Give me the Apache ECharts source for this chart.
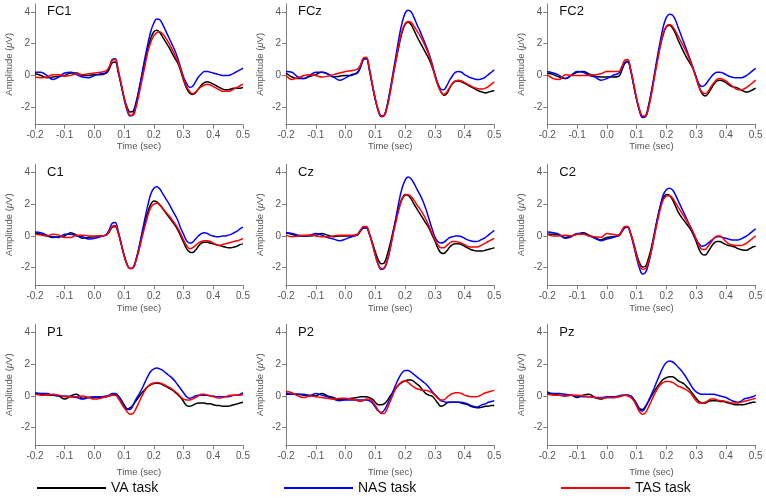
<!DOCTYPE html>
<html><head><meta charset="utf-8">
<script src="https://cdn.jsdelivr.net/npm/echarts@6/dist/echarts.min.js"></script>
<style>html,body{margin:0;padding:0;background:#fff}#c{width:766px;height:498px}</style>
</head><body><div id="c"></div>
<script>
// ---- data ----
const times = [-0.2,-0.18,-0.16,-0.14,-0.12,-0.1,-0.08,-0.06,-0.04,-0.02,0,0.02,0.04,
  0.05,0.06,0.07,0.08,0.09,0.1,0.11,0.12,0.13,0.14,
  0.15,0.16,0.17,0.18,0.19,0.2,0.21,0.22,0.23,0.24,
  0.25,0.26,0.27,0.28,0.29,0.3,0.31,0.32,0.33,0.34,
  0.35,0.36,0.37,0.38,0.39,0.4,0.41,0.42,0.43,0.44,
  0.45,0.46,0.47,0.48,0.49,0.5];
const channels = ['FC1','FCz','FC2','C1','Cz','C2','P1','P2','Pz'];
const taskNames = ['VA task','NAS task','TAS task'];
const taskColors = ['#000000','#0000ff','#ff0000'];
const xTicks = [-0.2,-0.1,0,0.1,0.2,0.3,0.4,0.5];
const yTicks = [-2,0,2,4];

const FC1_VA = [0.1,0.0,-0.15,-0.1,-0.05,0.0,0.15,0.15,0.0,0.0,0.05,0.05,0.15,
  0.4,0.8,0.85,0.2,-0.6,-1.4,-2.0,-2.3,-2.25,-1.7,
  -0.9,0.0,0.9,1.7,2.35,2.75,2.85,2.7,2.4,2.1,
  1.8,1.45,1.1,0.8,0.3,-0.3,-0.8,-1.1,-1.2,-1.1,
  -0.85,-0.6,-0.45,-0.4,-0.45,-0.55,-0.65,-0.75,-0.85,-0.9,
  -0.9,-0.85,-0.8,-0.8,-0.8,-0.75];
const FC1_NAS = [0.2,0.2,0.0,-0.25,-0.1,0.15,0.2,0.05,-0.1,-0.15,0.0,0.1,0.2,
  0.5,1.0,1.05,0.3,-0.6,-1.5,-2.2,-2.55,-2.45,-1.8,
  -0.9,0.1,1.1,2.0,2.8,3.3,3.55,3.5,3.2,2.8,
  2.4,2.0,1.6,1.1,0.5,-0.1,-0.5,-0.75,-0.7,-0.4,
  -0.1,0.1,0.25,0.25,0.2,0.15,0.1,0.05,0.0,0.0,
  0.0,0.05,0.15,0.25,0.35,0.45];
const FC1_TAS = [-0.1,-0.15,-0.1,0.05,0.05,-0.05,0.0,0.1,0.05,0.1,0.15,0.2,0.3,
  0.55,0.95,1.0,0.35,-0.5,-1.4,-2.1,-2.5,-2.5,-2.0,
  -1.2,-0.3,0.6,1.5,2.1,2.5,2.7,2.75,2.6,2.35,
  2.05,1.7,1.3,0.9,0.4,-0.2,-0.7,-1.0,-1.15,-1.05,
  -0.85,-0.7,-0.6,-0.55,-0.6,-0.7,-0.8,-0.9,-1.0,-1.0,
  -1.0,-0.95,-0.85,-0.75,-0.65,-0.55];

const FCz_VA = [0.15,-0.1,-0.2,-0.2,-0.05,0.05,0.2,0.1,-0.1,-0.05,0.0,0.0,0.2,
  0.5,1.0,1.05,0.35,-0.6,-1.5,-2.2,-2.55,-2.5,-1.9,
  -1.0,0.0,1.0,1.9,2.7,3.2,3.35,3.2,2.85,2.45,
  2.1,1.75,1.4,1.05,0.6,0.05,-0.55,-1.0,-1.25,-1.15,
  -0.8,-0.5,-0.35,-0.35,-0.4,-0.5,-0.6,-0.7,-0.8,-0.9,
  -1.0,-1.05,-1.1,-1.05,-1.0,-0.95];
const FCz_NAS = [0.25,0.2,-0.1,-0.2,0.0,0.2,0.2,0.1,-0.1,-0.3,-0.15,0.05,0.15,
  0.5,1.0,1.1,0.4,-0.6,-1.5,-2.2,-2.6,-2.55,-1.9,
  -0.9,0.2,1.3,2.4,3.3,3.9,4.1,4.0,3.65,3.2,
  2.8,2.35,1.9,1.4,0.8,0.1,-0.5,-0.85,-0.9,-0.65,
  -0.3,0.0,0.2,0.25,0.2,0.05,-0.05,-0.15,-0.2,-0.25,
  -0.25,-0.2,-0.1,0.05,0.2,0.35];
const FCz_TAS = [0.0,-0.25,-0.15,0.0,0.05,0.0,-0.1,-0.05,0.05,0.15,0.25,0.3,0.4,
  0.65,1.1,1.15,0.45,-0.5,-1.45,-2.15,-2.55,-2.5,-2.0,
  -1.1,0.0,1.0,2.0,2.8,3.25,3.4,3.35,3.1,2.8,
  2.5,2.15,1.75,1.3,0.7,0.0,-0.6,-1.0,-1.2,-1.05,
  -0.75,-0.5,-0.35,-0.3,-0.35,-0.45,-0.55,-0.65,-0.75,-0.8,
  -0.85,-0.85,-0.8,-0.7,-0.55,-0.4];

const FC2_VA = [0.15,0.05,-0.1,-0.2,0.0,0.2,0.25,0.1,-0.05,-0.1,-0.1,-0.1,-0.05,
  0.3,0.75,0.85,0.3,-0.6,-1.5,-2.2,-2.6,-2.55,-1.9,
  -1.0,0.0,1.0,1.9,2.6,3.05,3.15,3.0,2.65,2.2,
  1.8,1.4,1.05,0.75,0.4,-0.1,-0.7,-1.15,-1.3,-1.15,
  -0.85,-0.55,-0.35,-0.3,-0.35,-0.45,-0.6,-0.7,-0.75,-0.8,
  -0.9,-1.0,-1.05,-1.0,-0.9,-0.8];
const FC2_NAS = [0.25,0.15,0.0,-0.2,0.0,0.25,0.2,0.0,-0.1,-0.3,-0.2,0.0,0.15,
  0.45,0.8,0.9,0.35,-0.6,-1.5,-2.25,-2.65,-2.6,-2.0,
  -1.0,0.1,1.2,2.2,3.1,3.65,3.85,3.8,3.5,3.0,
  2.5,2.0,1.5,1.0,0.45,-0.1,-0.55,-0.7,-0.6,-0.35,
  -0.1,0.1,0.2,0.2,0.15,0.05,-0.05,-0.1,-0.15,-0.15,
  -0.15,-0.1,0.0,0.15,0.3,0.45];
const FC2_TAS = [0.05,-0.2,-0.25,0.05,0.0,0.0,0.0,0.0,0.05,0.1,0.25,0.25,0.25,
  0.55,0.95,1.0,0.4,-0.5,-1.45,-2.15,-2.55,-2.55,-2.05,
  -1.2,-0.1,0.9,1.9,2.7,3.1,3.2,3.1,2.8,2.45,
  2.1,1.75,1.35,0.9,0.4,-0.2,-0.75,-1.05,-1.15,-1.0,
  -0.7,-0.45,-0.25,-0.2,-0.25,-0.35,-0.5,-0.65,-0.8,-0.9,
  -0.9,-0.85,-0.75,-0.6,-0.45,-0.3];

const C1_VA = [0.2,0.1,0.0,-0.1,-0.05,0.0,0.2,0.05,-0.15,-0.1,-0.05,0.0,0.05,
  0.25,0.55,0.6,0.2,-0.5,-1.2,-1.8,-2.05,-2.0,-1.5,
  -0.8,0.0,0.8,1.5,2.0,2.2,2.15,1.95,1.7,1.45,
  1.2,0.95,0.7,0.4,0.0,-0.4,-0.8,-1.0,-1.05,-0.9,
  -0.65,-0.45,-0.4,-0.4,-0.45,-0.5,-0.55,-0.6,-0.65,-0.7,
  -0.75,-0.75,-0.7,-0.65,-0.55,-0.5];
const C1_NAS = [0.25,0.2,0.05,-0.05,-0.1,0.1,0.1,0.0,-0.05,-0.2,-0.15,-0.05,0.1,
  0.4,0.8,0.85,0.3,-0.5,-1.25,-1.8,-2.05,-2.0,-1.5,
  -0.7,0.2,1.1,1.95,2.65,3.0,3.1,2.95,2.65,2.35,
  2.05,1.7,1.35,1.0,0.5,0.1,-0.3,-0.45,-0.4,-0.2,
  0.0,0.15,0.2,0.15,0.05,0.0,-0.05,-0.05,0.0,0.0,
  0.05,0.1,0.2,0.3,0.45,0.55];
const C1_TAS = [0.1,0.05,0.0,0.1,0.05,-0.1,-0.1,0.05,0.05,0.0,0.0,0.0,0.05,
  0.3,0.6,0.65,0.2,-0.5,-1.25,-1.8,-2.05,-2.0,-1.55,
  -0.9,-0.1,0.6,1.3,1.8,2.0,2.05,1.95,1.75,1.5,
  1.3,1.05,0.8,0.5,0.15,-0.25,-0.6,-0.8,-0.75,-0.6,
  -0.45,-0.35,-0.3,-0.3,-0.35,-0.45,-0.55,-0.6,-0.55,-0.5,
  -0.45,-0.4,-0.35,-0.3,-0.25,-0.15];

const Cz_VA = [0.2,0.1,0.0,0.0,0.0,0.05,0.15,0.05,-0.05,0.0,0.0,0.0,0.05,
  0.3,0.5,0.55,0.15,-0.4,-1.0,-1.5,-1.75,-1.7,-1.2,
  -0.5,0.3,1.1,1.8,2.35,2.6,2.55,2.35,2.0,1.7,
  1.4,1.1,0.8,0.5,0.1,-0.3,-0.75,-1.05,-1.1,-0.95,
  -0.7,-0.55,-0.5,-0.5,-0.55,-0.65,-0.75,-0.85,-0.9,-0.95,
  -0.95,-0.95,-0.9,-0.85,-0.8,-0.75];
const Cz_NAS = [0.2,0.15,0.05,0.0,0.05,0.15,0.05,-0.1,-0.2,-0.3,-0.2,-0.05,0.1,
  0.35,0.5,0.5,0.1,-0.5,-1.2,-1.8,-2.1,-2.05,-1.6,
  -0.8,0.2,1.2,2.2,3.0,3.5,3.7,3.6,3.3,2.95,
  2.6,2.2,1.7,1.1,0.5,-0.05,-0.35,-0.45,-0.4,-0.25,
  -0.1,-0.05,0.0,0.0,-0.05,-0.15,-0.25,-0.3,-0.35,-0.35,
  -0.3,-0.2,-0.1,0.05,0.2,0.35];
const Cz_TAS = [0.05,-0.05,0.0,0.05,0.05,0.0,-0.05,-0.05,0.0,0.05,0.05,0.05,0.1,
  0.35,0.6,0.6,0.15,-0.5,-1.2,-1.8,-2.05,-2.0,-1.55,
  -0.8,0.1,0.9,1.7,2.3,2.55,2.6,2.5,2.25,1.95,
  1.7,1.4,1.05,0.65,0.2,-0.2,-0.55,-0.75,-0.75,-0.6,
  -0.45,-0.35,-0.35,-0.4,-0.45,-0.55,-0.65,-0.7,-0.7,-0.7,
  -0.65,-0.55,-0.45,-0.35,-0.25,-0.15];

const C2_VA = [0.1,0.1,0.05,-0.1,0.0,0.1,0.2,0.05,-0.1,-0.25,-0.1,-0.05,0.0,
  0.25,0.5,0.55,0.15,-0.45,-1.15,-1.7,-1.95,-1.9,-1.4,
  -0.7,0.2,1.1,1.85,2.4,2.6,2.55,2.3,1.9,1.5,
  1.2,0.95,0.7,0.45,0.1,-0.35,-0.85,-1.15,-1.2,-1.0,
  -0.7,-0.45,-0.35,-0.35,-0.45,-0.55,-0.6,-0.65,-0.7,-0.8,
  -0.85,-0.9,-0.9,-0.8,-0.7,-0.65];
const C2_NAS = [0.25,0.2,0.1,-0.15,-0.05,0.15,0.15,0.0,-0.15,-0.3,-0.2,-0.1,0.05,
  0.3,0.55,0.55,0.1,-0.6,-1.4,-2.05,-2.4,-2.3,-1.75,
  -0.9,0.1,1.1,1.95,2.6,2.9,3.0,2.9,2.6,2.2,
  1.8,1.4,1.0,0.6,0.2,-0.2,-0.5,-0.65,-0.6,-0.45,
  -0.3,-0.15,-0.05,-0.05,-0.1,-0.15,-0.2,-0.25,-0.25,-0.25,
  -0.2,-0.1,0.0,0.15,0.3,0.45];
const C2_TAS = [0.1,0.0,0.0,0.05,0.0,0.1,0.1,0.0,-0.05,-0.1,0.15,0.1,0.05,
  0.3,0.6,0.6,0.15,-0.5,-1.25,-1.85,-2.1,-2.05,-1.6,
  -0.9,0.0,0.9,1.7,2.3,2.5,2.55,2.4,2.1,1.8,
  1.5,1.2,0.9,0.6,0.25,-0.2,-0.6,-0.85,-0.85,-0.65,
  -0.4,-0.15,0.0,0.0,-0.15,-0.35,-0.5,-0.55,-0.6,-0.6,
  -0.6,-0.55,-0.45,-0.3,-0.15,0.0];

const P1_VA = [0.15,0.1,0.05,0.05,0.0,-0.2,0.0,0.1,-0.15,-0.1,-0.1,-0.1,-0.05,
  0.0,0.05,0.1,0.0,-0.25,-0.55,-0.8,-0.75,-0.55,-0.3,
  -0.05,0.2,0.4,0.6,0.7,0.78,0.8,0.78,0.7,0.6,
  0.5,0.4,0.25,0.1,-0.1,-0.35,-0.6,-0.65,-0.6,-0.5,
  -0.45,-0.45,-0.45,-0.5,-0.5,-0.55,-0.6,-0.6,-0.65,-0.65,
  -0.65,-0.6,-0.55,-0.5,-0.45,-0.4];
const P1_NAS = [0.2,0.15,0.15,0.05,0.0,0.0,-0.05,-0.1,-0.2,-0.1,-0.05,-0.05,0.0,
  0.05,0.15,0.15,0.0,-0.3,-0.65,-0.85,-0.85,-0.6,-0.2,
  0.1,0.45,0.85,1.25,1.55,1.7,1.75,1.7,1.6,1.45,
  1.3,1.15,0.95,0.7,0.45,0.2,-0.05,-0.15,-0.1,0.0,
  0.05,0.05,0.05,0.05,0.0,0.0,-0.05,-0.05,-0.05,-0.05,
  -0.05,0.0,0.05,0.05,0.1,0.2];
const P1_TAS = [0.1,0.05,0.05,0.1,0.05,-0.05,-0.05,-0.05,0.0,-0.1,-0.2,-0.15,-0.05,
  0.0,0.05,0.05,-0.15,-0.45,-0.75,-1.0,-1.15,-1.1,-0.8,
  -0.4,0.0,0.35,0.6,0.75,0.82,0.85,0.82,0.75,0.65,
  0.55,0.45,0.3,0.15,-0.05,-0.2,-0.25,-0.25,-0.2,-0.1,
  0.0,0.1,0.1,0.05,0.0,-0.05,-0.1,-0.15,-0.1,-0.05,
  0.0,0.05,0.05,0.05,0.05,0.1];

const P2_VA = [0.1,0.1,0.1,0.05,0.05,0.0,0.15,0.0,-0.1,-0.25,-0.2,-0.15,-0.1,
  -0.05,-0.05,-0.05,-0.1,-0.2,-0.4,-0.55,-0.55,-0.5,-0.3,
  0.0,0.25,0.5,0.7,0.85,0.95,1.0,1.0,0.9,0.75,
  0.6,0.35,0.15,0.05,0.0,-0.2,-0.45,-0.65,-0.6,-0.45,
  -0.4,-0.4,-0.4,-0.4,-0.45,-0.5,-0.55,-0.65,-0.7,-0.75,
  -0.75,-0.7,-0.65,-0.65,-0.6,-0.6];
const P2_NAS = [0.2,0.1,0.1,0.1,0.0,0.15,0.05,-0.05,-0.2,-0.3,-0.25,-0.25,-0.25,
  -0.25,-0.25,-0.25,-0.3,-0.45,-0.7,-0.95,-1.05,-0.9,-0.55,
  -0.15,0.3,0.75,1.15,1.45,1.6,1.6,1.5,1.35,1.2,
  1.05,0.9,0.75,0.55,0.3,0.1,-0.1,-0.3,-0.35,-0.4,
  -0.4,-0.4,-0.4,-0.4,-0.4,-0.45,-0.5,-0.6,-0.65,-0.7,
  -0.65,-0.55,-0.5,-0.4,-0.35,-0.3];
const P2_TAS = [0.3,0.2,0.0,-0.1,0.0,-0.05,-0.1,-0.15,-0.2,-0.15,-0.15,-0.2,-0.3,
  -0.35,-0.3,-0.2,-0.2,-0.35,-0.6,-0.9,-1.1,-1.1,-0.8,
  -0.35,0.1,0.5,0.75,0.9,0.95,0.85,0.7,0.55,0.45,
  0.4,0.35,0.35,0.3,0.2,0.05,-0.15,-0.25,-0.25,-0.1,
  0.05,0.15,0.2,0.2,0.15,0.05,0.0,-0.05,-0.05,-0.05,
  0.0,0.1,0.2,0.25,0.3,0.35];

const Pz_VA = [0.15,0.1,0.05,0.0,0.05,-0.1,0.05,0.1,-0.1,-0.2,-0.1,-0.1,-0.05,
  0.0,0.05,0.05,0.0,-0.2,-0.5,-0.8,-0.85,-0.65,-0.35,
  0.0,0.3,0.6,0.85,1.05,1.15,1.2,1.2,1.1,0.95,
  0.85,0.75,0.55,0.35,0.1,-0.15,-0.35,-0.45,-0.45,-0.35,
  -0.3,-0.3,-0.3,-0.35,-0.35,-0.4,-0.45,-0.5,-0.55,-0.55,
  -0.55,-0.55,-0.5,-0.45,-0.4,-0.4];
const Pz_NAS = [0.25,0.15,0.15,0.1,0.05,0.0,-0.05,-0.05,-0.1,-0.1,-0.05,-0.05,0.0,
  0.05,0.05,0.05,0.0,-0.2,-0.5,-0.85,-0.95,-0.7,-0.3,
  0.1,0.55,1.0,1.45,1.85,2.1,2.2,2.15,2.0,1.8,
  1.6,1.35,1.05,0.75,0.45,0.25,0.15,0.1,0.1,0.1,
  0.1,0.1,0.05,0.0,-0.05,-0.1,-0.2,-0.3,-0.35,-0.4,
  -0.35,-0.2,-0.15,-0.1,-0.05,0.05];
const Pz_TAS = [0.1,0.05,0.05,0.0,0.05,0.05,0.0,-0.05,-0.1,-0.15,-0.1,-0.1,-0.05,
  0.0,0.05,0.0,-0.1,-0.3,-0.65,-1.0,-1.15,-1.05,-0.7,
  -0.3,0.1,0.45,0.7,0.85,0.9,0.9,0.85,0.75,0.6,
  0.55,0.45,0.35,0.2,-0.05,-0.3,-0.45,-0.45,-0.4,-0.3,
  -0.2,-0.2,-0.25,-0.3,-0.3,-0.35,-0.4,-0.45,-0.45,-0.45,
  -0.4,-0.35,-0.3,-0.25,-0.2,-0.15];

const panelSeries = {
  FC1:[FC1_VA,FC1_NAS,FC1_TAS], FCz:[FCz_VA,FCz_NAS,FCz_TAS], FC2:[FC2_VA,FC2_NAS,FC2_TAS],
  C1:[C1_VA,C1_NAS,C1_TAS], Cz:[Cz_VA,Cz_NAS,Cz_TAS], C2:[C2_VA,C2_NAS,C2_TAS],
  P1:[P1_VA,P1_NAS,P1_TAS], P2:[P2_VA,P2_NAS,P2_TAS], Pz:[Pz_VA,Pz_NAS,Pz_TAS]
};

// ---- layout ----
const colLeft = [35, 286, 547.3];
const colWidth = [208, 208.3, 208.4];
const rowTop = [3.9, 164.4, 324.4];
const gridH = 120.8;
const xNameGap = [16, 18.5, 22];
const FONT = 'Liberation Sans, Arial, sans-serif';
const AX = '#7f7f7f';
const TXT = '#555555';

const grids = [], xAxes = [], yAxes = [], titles = [], series = [];
channels.forEach((ch, i) => {
  const r = Math.floor(i / 3), c = i % 3;
  grids.push({left: colLeft[c], top: rowTop[r], width: colWidth[c], height: gridH, containLabel: false});
  xAxes.push({
    gridIndex: i, type: 'value', min: -0.2, max: 0.5,
    axisLine: {show: true, onZero: false, lineStyle: {color: AX, width: 1}},
    axisTick: {show: true, length: 4, customValues: xTicks, lineStyle: {color: AX}},
    axisLabel: {customValues: xTicks, formatter: v => v.toFixed(1), color: TXT, fontSize: 10, margin: 6, fontFamily: FONT},
    splitLine: {show: false},
    name: 'Time (sec)', nameLocation: 'middle', nameGap: xNameGap[r],
    nameTextStyle: {color: TXT, fontSize: 9.5, fontFamily: FONT}
  });
  yAxes.push({
    gridIndex: i, type: 'value', min: -3.1, max: 4.5,
    axisLine: {show: true, onZero: false, lineStyle: {color: AX, width: 1}},
    axisTick: {show: true, length: 4, customValues: yTicks, lineStyle: {color: AX}},
    axisLabel: {customValues: yTicks, color: TXT, fontSize: 10, margin: 5, fontFamily: FONT},
    splitLine: {show: false},
    name: 'Amplitude ({i|\u03bc}V)', nameLocation: 'middle', nameGap: 21,
    nameTextStyle: {color: TXT, fontSize: 9.5, fontFamily: FONT,
      rich: {i: {fontStyle: 'italic', color: TXT, fontSize: 9.5, fontFamily: FONT}}}
  });
  titles.push({
    text: ch, left: colLeft[c] + 12, top: rowTop[r] + 1.5, padding: 0,
    textStyle: {fontSize: 13, fontWeight: 'normal', color: '#111', fontFamily: FONT}
  });
  panelSeries[ch].forEach((vals, k) => {
    series.push({
      name: taskNames[k], type: 'line', xAxisIndex: i, yAxisIndex: i,
      data: times.map((t, j) => [t, vals[j]]),
      smooth: 0.4, symbol: 'none', showSymbol: false,
      lineStyle: {color: taskColors[k], width: 1.5},
      itemStyle: {color: taskColors[k]},
      z: 2 + k, silent: true
    });
  });
});

const legendLeft = [37, 284, 561];
const legends = taskNames.map((n, k) => ({
  data: [n], left: legendLeft[k], top: 481, padding: 0, icon: 'rect', itemWidth: 69, itemHeight: 2,
  selectedMode: false,
  textStyle: {fontSize: 14, color: '#111', fontFamily: FONT}
}));

const chart = echarts.init(document.getElementById('c'), null, {renderer: 'canvas'});
chart.setOption({
  animation: false,
  backgroundColor: '#ffffff',
  title: titles,
  legend: legends,
  grid: grids,
  xAxis: xAxes,
  yAxis: yAxes,
  series: series
});
</script>
</body></html>
